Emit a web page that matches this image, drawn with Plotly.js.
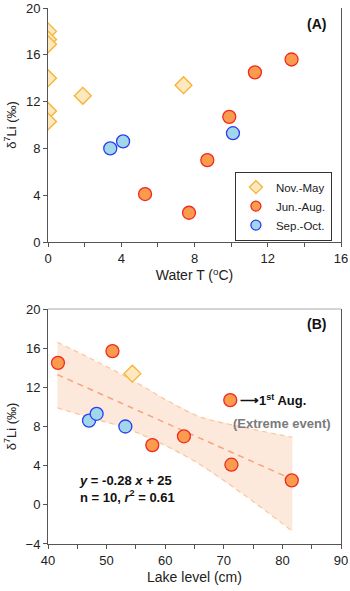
<!DOCTYPE html>
<html><head><meta charset="utf-8">
<script src="https://cdn.plot.ly/plotly-3.0.1.min.js"></script>
<style>html,body{margin:0;padding:0;background:#fff;}#chart{width:350px;height:591px;}</style>
</head><body><div id="chart"></div>
<script>
// ---- Panel A: water temperature vs d7Li ----
const novTempA = [0, 0, 0, 0, 0, 0, 1.9, 7.4];
const novLiA   = [18.0, 17.3, 16.9, 14.0, 11.2, 10.3, 12.5, 13.4];
const junTempA = [5.3, 7.7, 8.7, 9.9, 11.3, 13.3];
const junLiA   = [4.1, 2.5, 7.0, 10.7, 14.5, 15.6];
const sepTempA = [3.4, 4.1, 10.1];
const sepLiA   = [8.0, 8.6, 9.3];

// ---- Panel B: lake level vs d7Li ----
const junLevelB = [41.7, 51.0, 57.8, 63.2, 71.3, 81.6];
const junLiB    = [14.5, 15.7, 6.1, 7.0, 4.1, 2.5];
const sepLevelB = [47.0, 48.3, 53.2];
const sepLiB    = [8.6, 9.3, 8.0];
const novLevelB = [54.4];
const novLiB    = [13.4];
const augLevelB = [71.1];   // "1st Aug." symbol
const augLiB    = [10.7];

// regression line and confidence band
const fitX = [41.6, 81.7];
const fitY = [13.3, 2.6];
const bandUpX = [41.6, 47.1, 54.5, 60.2, 65.9, 73.5, 81.7];
const bandUpY = [16.6, 15.0, 12.7, 10.7, 9.0, 7.9, 6.9];
const bandLoX = [41.6, 47.2, 53.0, 58.1, 64.9, 73.5, 81.7];
const bandLoY = [9.9, 8.9, 7.9, 6.6, 4.5, 1.0, -2.7];

const seriesNames = ['Nov.-May', 'Jun.-Aug.', 'Sep.-Oct.'];

const FONT = 'Liberation Sans, Arial, sans-serif';
const mk = (base, size) => Object.assign({}, base, {size: size});
const diamond = {symbol: 'diamond', size: 13, color: '#fde8c0', line: {color: '#f5b22e', width: 1.3}};
const orange = {symbol: 'circle', size: 13, color: '#fb9b4d', line: {color: '#ee2a22', width: 1.3}};
const blue = {symbol: 'circle', size: 13, color: '#a2d7ea', line: {color: '#2a3df2', width: 1.3}};

const traces = [
  {x: novTempA, y: novLiA, mode: 'markers', name: seriesNames[0], marker: diamond, showlegend: false, xaxis: 'x', yaxis: 'y'},
  {x: junTempA, y: junLiA, mode: 'markers', name: seriesNames[1], marker: orange, showlegend: false, xaxis: 'x', yaxis: 'y'},
  {x: sepTempA, y: sepLiA, mode: 'markers', name: seriesNames[2], marker: blue, showlegend: false, xaxis: 'x', yaxis: 'y'},
  // legend entries (smaller symbols, as in the reference legend box)
  {x: [null], y: [null], mode: 'markers', name: seriesNames[0], marker: mk(diamond, 10), xaxis: 'x', yaxis: 'y'},
  {x: [null], y: [null], mode: 'markers', name: seriesNames[1], marker: mk(orange, 10), xaxis: 'x', yaxis: 'y'},
  {x: [null], y: [null], mode: 'markers', name: seriesNames[2], marker: mk(blue, 10), xaxis: 'x', yaxis: 'y'},
  // band fill
  {x: bandUpX.concat(bandLoX.slice().reverse()), y: bandUpY.concat(bandLoY.slice().reverse()),
   mode: 'lines', fill: 'toself', fillcolor: '#fde8dc', line: {width: 0, color: 'rgba(0,0,0,0)'},
   showlegend: false, hoverinfo: 'skip', xaxis: 'x2', yaxis: 'y2'},
  {x: bandUpX, y: bandUpY, mode: 'lines', line: {color: '#f9c79c', width: 1.2, dash: '5px,4px', shape: 'spline'},
   showlegend: false, xaxis: 'x2', yaxis: 'y2'},
  {x: bandLoX, y: bandLoY, mode: 'lines', line: {color: '#f9c79c', width: 1.2, dash: '5px,4px', shape: 'spline'},
   showlegend: false, xaxis: 'x2', yaxis: 'y2'},
  {x: fitX, y: fitY, mode: 'lines', line: {color: '#f5a57a', width: 1.5, dash: '6px,5px'},
   showlegend: false, xaxis: 'x2', yaxis: 'y2'},
  {x: novLevelB, y: novLiB, mode: 'markers', marker: diamond, showlegend: false, xaxis: 'x2', yaxis: 'y2'},
  {x: sepLevelB, y: sepLiB, mode: 'markers', marker: blue, showlegend: false, xaxis: 'x2', yaxis: 'y2'},
  {x: junLevelB, y: junLiB, mode: 'markers', marker: orange, showlegend: false, xaxis: 'x2', yaxis: 'y2'},
  {x: augLevelB, y: augLiB, mode: 'markers', marker: orange, showlegend: false, xaxis: 'x2', yaxis: 'y2'}
];

const axisCommon = {
  showgrid: false, zeroline: false, showline: true, linecolor: '#555', linewidth: 1,
  ticks: 'outside', ticklen: 4, tickwidth: 1, tickcolor: '#555',
  tickfont: {family: FONT, size: 13, color: '#222'}, automargin: false
};
const titleFont = {family: FONT, size: 14, color: '#222'};
const yTitleFont = {family: FONT, size: 13, color: '#222'};

const layout = {
  width: 350, height: 591,
  margin: {l: 48, r: 9, t: 8, b: 47},
  paper_bgcolor: '#fff', plot_bgcolor: 'rgba(0,0,0,0)',
  font: {family: FONT},
  xaxis: Object.assign({}, axisCommon, {
    domain: [0, 1], anchor: 'y', range: [0, 16], tickvals: [0, 4, 8, 12, 16],
    minor: {tickvals: [2, 6, 10, 14], ticks: 'outside', ticklen: 4, tickcolor: '#555'},
    title: {text: 'Water T (<sup>o</sup>C)', font: titleFont, standoff: 5}
  }),
  yaxis: Object.assign({}, axisCommon, {
    domain: [0.5634, 1], anchor: 'x', range: [0, 20], tickvals: [0, 4, 8, 12, 16, 20], mirror: true,
    title: {text: 'δ<sup>7</sup>Li (‰)', font: yTitleFont, standoff: 6}
  }),
  xaxis2: Object.assign({}, axisCommon, {
    domain: [0, 1], anchor: 'y2', range: [40, 90], tickvals: [40, 50, 60, 70, 80, 90],
    minor: {tickvals: [45, 55, 65, 75, 85], ticks: 'outside', ticklen: 4, tickcolor: '#555'},
    title: {text: 'Lake level (cm)', font: titleFont, standoff: 5}
  }),
  yaxis2: Object.assign({}, axisCommon, {
    domain: [0, 0.4384], anchor: 'x2', range: [-4, 20], tickvals: [-4, 0, 4, 8, 12, 16, 20], mirror: true,
    title: {text: 'δ<sup>7</sup>Li (‰)', font: yTitleFont, standoff: 6}
  }),
  showlegend: true,
  legend: {
    x: 0.969, xanchor: 'right', y: 0.566, yanchor: 'bottom',
    bordercolor: '#333', borderwidth: 1, bgcolor: '#fff', itemsizing: 'trace',
    font: {family: FONT, size: 11.5, color: '#222'}, tracegroupgap: 0, itemwidth: 30
  },
  shapes: [
    {type: 'line', xref: 'x2 domain', yref: 'y2 domain', x0: 0, x1: 1, y0: 1, y1: 1,
     line: {color: '#aaa', width: 1}}
  ],
  annotations: [
    {text: '<b>(A)</b>', xref: 'paper', yref: 'paper', x: 0.955, y: 0.97, xanchor: 'right', yanchor: 'middle',
     showarrow: false, font: {family: FONT, size: 14, color: '#111'}},
    {text: '<b>(B)</b>', xref: 'paper', yref: 'paper', x: 0.955, y: 0.411, xanchor: 'right', yanchor: 'middle',
     showarrow: false, font: {family: FONT, size: 14, color: '#111'}},
    {text: '<b>⟶1<sup>st</sup> Aug.</b>', xref: 'x2', yref: 'y2', x: 72.4, y: 10.7, xanchor: 'left', yanchor: 'middle',
     showarrow: false, font: {family: FONT, size: 13, color: '#111'}},
    {text: '<b>(Extreme event)</b>', xref: 'x2', yref: 'y2', x: 88.7, y: 8.3, xanchor: 'right', yanchor: 'middle',
     showarrow: false, font: {family: FONT, size: 13, color: '#7a7a7a'}},
    {text: '<b><i>y</i> = -0.28 <i>x</i> + 25</b><br><b>n = 10, <i>r</i><sup>2</sup> = 0.61</b>',
     xref: 'paper', yref: 'paper', x: 0.098, y: 0.103, xanchor: 'left', yanchor: 'middle', align: 'left',
     showarrow: false, font: {family: FONT, size: 13, color: '#111'}}
  ]
};

Plotly.newPlot('chart', traces, layout, {displayModeBar: false, staticPlot: true});
</script>
</body></html>
